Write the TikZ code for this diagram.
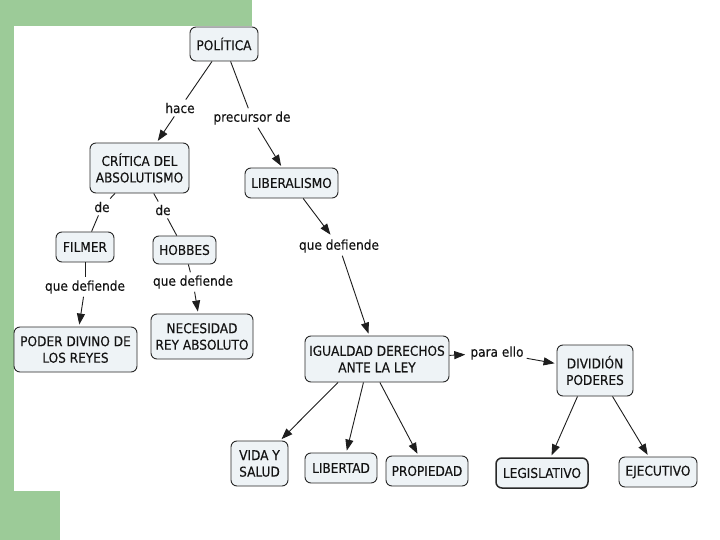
\documentclass[tikz,border=0pt]{standalone}
\usepackage{fontspec}
\setmainfont{DejaVu Sans Condensed}[FakeBold=0.25]
\usetikzlibrary{arrows.meta}
\definecolor{greenband}{RGB}{156,203,152}
\definecolor{boxfill}{RGB}{238,243,246}
\definecolor{boxline}{RGB}{40,40,40}
\definecolor{lineclr}{RGB}{30,30,30}
\definecolor{txt}{RGB}{20,20,20}
\newcommand{\boxfont}{\fontsize{13.5}{16.5}\selectfont}
\tikzset{
  cbox/.style={draw=boxline, fill=boxfill, rounded corners=6pt, line width=0.9pt,
    font=\boxfont, text=txt, align=center, inner sep=2pt},
  lbl/.style={font=\boxfont, inner sep=3pt, text=txt},
  conn/.style={draw=lineclr, line width=0.9pt},
  arr/.style={conn, -{Triangle[length=11pt,width=8pt]}, shorten >=2pt},
}
\begin{document}
\begin{tikzpicture}[x=1pt,y=-1pt]
\useasboundingbox (0,0) rectangle (720,540);
\fill[white] (0,0) rectangle (720,540);
% green decoration
\fill[greenband] (0,0) rectangle (252,26);
\fill[greenband] (0,0) rectangle (14,540);
\fill[greenband] (0,491) rectangle (60,540);

% concept boxes
\node[cbox, minimum width=68pt, minimum height=34pt] (politica) at (224,44) {POLÍTICA};
\node[cbox, minimum width=99pt, minimum height=50pt] (critica) at (139.5,168) {CRÍTICA DEL\\ABSOLUTISMO};
\node[cbox, minimum width=93pt, minimum height=30pt] (liberalismo) at (291.5,183) {LIBERALISMO};
\node[cbox, minimum width=58pt, minimum height=30pt] (filmer) at (85,247) {FILMER};
\node[cbox, minimum width=63pt, minimum height=28pt] (hobbes) at (184.5,250) {HOBBES};
\node[cbox, minimum width=123pt, minimum height=45pt] (poder) at (75.5,349.5) {PODER DIVINO DE\\LOS REYES};
\node[cbox, minimum width=102pt, minimum height=45pt] (necesidad) at (202,336.5) {NECESIDAD\\REY ABSOLUTO};
\node[cbox, minimum width=144pt, minimum height=46pt] (igualdad) at (377,359) {IGUALDAD DERECHOS\\ANTE LA LEY};
\node[cbox, minimum width=76pt, minimum height=51pt] (division) at (595,370.5) {DIVIDIÓN\\PODERES};
\node[cbox, minimum width=57pt, minimum height=45pt] (vida) at (259.5,463.5) {VIDA Y\\SALUD};
\node[cbox, minimum width=72pt, minimum height=30pt] (libertad) at (341,468) {LIBERTAD};
\node[cbox, minimum width=82pt, minimum height=30pt] (propiedad) at (427,471) {PROPIEDAD};
\node[cbox, line width=1.5pt, minimum width=92pt, minimum height=30pt] (legislativo) at (542,473) {LEGISLATIVO};
\node[cbox, minimum width=78pt, minimum height=30pt] (ejecutivo) at (658,472) {EJECUTIVO};

% linking phrases
\node[lbl] (hace) at (180,108) {hace};
\node[lbl] (precursor) at (252,118) {precursor de};
\node[lbl] (de1) at (102,207) {de};
\node[lbl] (de2) at (163,210) {de};
\node[lbl] (qd1) at (85,287) {que defiende};
\node[lbl] (qd2) at (193,282) {que defiende};
\node[lbl] (qd3) at (339,246) {que defiende};
\node[lbl] (para) at (497,353) {para ello};

% connectors
\draw[conn] (politica) -- (hace);
\draw[arr] (hace) -- (critica);
\draw[conn] (politica) -- (precursor);
\draw[arr] (precursor) -- (liberalismo);
\draw[conn] (critica) -- (de1);
\draw[conn] (de1) -- (filmer);
\draw[conn] (critica) -- (de2);
\draw[conn] (de2) -- (hobbes);
\draw[conn] (filmer) -- (qd1);
\draw[arr] (qd1) -- (poder);
\draw[conn] (hobbes) -- (qd2);
\draw[arr] (qd2) -- (necesidad);
\draw[arr] (liberalismo) -- (qd3);
\draw[arr] (qd3) -- (igualdad);
\draw[arr] (igualdad) -- (para);
\draw[arr] (para) -- (division);
\draw[arr] (igualdad.-149) -- (vida.48);
\draw[arr] (igualdad.-120) -- (libertad.71);
\draw[arr] (igualdad.-83) -- (propiedad.119);
\draw[arr] (division.-124) -- (legislativo.61);
\draw[arr] (division.-56) -- (ejecutivo.121);
\end{tikzpicture}
\end{document}
